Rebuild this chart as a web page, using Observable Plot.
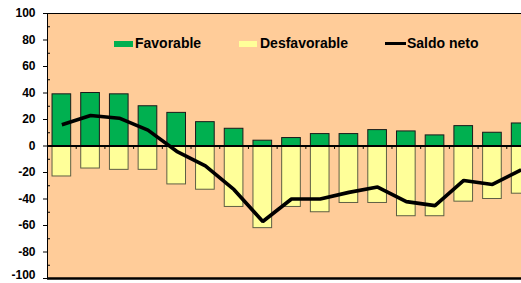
<!DOCTYPE html>
<html>
<head>
<meta charset="utf-8">
<script src="https://cdn.jsdelivr.net/npm/d3@7"></script>
<script src="https://cdn.jsdelivr.net/npm/@observablehq/plot@0.6"></script>
<style>
  html, body { margin: 0; padding: 0; overflow: hidden; background: #fff; }
  #wrap { position: relative; width: 521px; height: 283px; overflow: hidden; }
  #wrap svg { display: block; overflow: hidden; }
  .lg { position: absolute; font: bold 14px "Liberation Sans", Arial, sans-serif; line-height: 16px; color: #000; white-space: nowrap; }
  .sw { position: absolute; }
</style>
</head>
<body>
<div id="wrap"></div>
<script>
// ---- data ----
const categorias = ["1","2","3","4","5","6","7","8","9","10","11","12","13","14","15","16","17"];
const favorable = [39, 40, 39, 30, 25, 18, 13, 4, 6, 9, 9, 12, 11, 8, 15, 10, 17];
const desfavorable = [-23, -17, -18, -18, -29, -33, -46, -62, -46, -50, -43, -43, -53, -53, -42, -40, -36];
const saldo = [16, 23, 21, 12, -4, -15, -33, -57, -40, -40, -35, -31, -42, -45, -26, -29, -18];
const yTicks = [-100, -80, -60, -40, -20, 0, 20, 40, 60, 80, 100];
const yMinor = [-90, -70, -50, -30, -10, 10, 30, 50, 70, 90];
const seriesNames = ["Favorable", "Desfavorable", "Saldo neto"];

const rows = categorias.map((c, i) => ({cat: c, fav: favorable[i], desf: desfavorable[i], saldo: saldo[i]}));

const W = 521, H = 283;
const mL = 47, mR = -14, mT = 13, mB = 5;
const step = (W - mL - mR) / categorias.length;

const font = "'Liberation Sans', Arial, sans-serif";
const yMin = yTicks[0];
const axisText = { anchor: "left", tickSize: 0, tickPadding: 12, fontSize: 12, fontWeight: "bold", fontFamily: font, label: null };

const chart = Plot.plot({
  width: W,
  height: H,
  marginLeft: mL,
  marginRight: mR,
  marginTop: mT,
  marginBottom: mB,
  style: { fontFamily: font, fontSize: "12px", fontWeight: "bold", background: "#fff", color: "#000" },
  x: { type: "band", domain: categorias, paddingInner: 0.35, paddingOuter: 0.175, round: false, axis: null },
  y: { domain: [-100, 100], axis: null },
  marks: [
    Plot.frame({ fill: "#FFCC99", stroke: "none" }),
    Plot.barY(rows, { x: "cat", y: "desf", fill: "#FFFF99", stroke: "#5f5f45", strokeWidth: 1 }),
    Plot.barY(rows, { x: "cat", y: "fav", fill: "#00B050", stroke: "#1a1a1a", strokeWidth: 1 }),
    Plot.ruleY([0], { stroke: "#000", strokeWidth: 2 }),
    Plot.ruleX(categorias.slice(1), { x: d => d, dx: -step / 2, y1: 0, y2: -2.6, stroke: "#000", strokeWidth: 1 }),
    Plot.lineY(rows, { x: "cat", y: "saldo", stroke: "#000", strokeWidth: 3.6, strokeLinejoin: "miter", strokeLinecap: "butt" }),
    Plot.ruleY([100], { stroke: "#000", strokeWidth: 1 }),
    Plot.ruleY([-100], { stroke: "#000", strokeWidth: 2.5 }),
    Plot.ruleX([categorias[0]], { x: d => d, dx: -step / 2, y1: -100, y2: 100, stroke: "#000", strokeWidth: 1 }),
    // major ticks (all)
    Plot.axisY(yTicks, { anchor: "left", tickSize: 4, tickFormat: () => "", label: null }),
    // labels (bottom one nudged up to stay inside the picture)
    Plot.axisY(yTicks.slice(1), { ...axisText, tickFormat: d => String(d) }),
    Plot.axisY([yMin], { ...axisText, dy: -3, tickFormat: d => String(d) }),
    // minor inside ticks
    Plot.axisY(yMinor, { anchor: "left", tickSize: -3, tickFormat: () => "", label: null })
  ]
});

const wrap = document.getElementById("wrap");
wrap.appendChild(chart);

// legend overlay (inside plot area)
const legend = [
  { name: seriesNames[0], type: "bar", fill: "#00B050", sx: 114, sw: 19, tx: 135 },
  { name: seriesNames[1], type: "bar", fill: "#FFFF99", sx: 239, sw: 18, tx: 260 },
  { name: seriesNames[2], type: "line", fill: "#000", sx: 385, sw: 21, tx: 407 }
];
legend.forEach(it => {
  const s = document.createElement("div");
  s.className = "sw";
  s.style.left = it.sx + "px";
  s.style.width = it.sw + "px";
  s.style.background = it.fill;
  if (it.type === "bar") { s.style.top = "40.5px"; s.style.height = "6.5px"; }
  else { s.style.top = "41.5px"; s.style.height = "3px"; }
  wrap.appendChild(s);
  const t = document.createElement("div");
  t.className = "lg";
  t.style.left = it.tx + "px";
  t.style.top = "35px";
  t.textContent = it.name;
  wrap.appendChild(t);
});
</script>
</body>
</html>
